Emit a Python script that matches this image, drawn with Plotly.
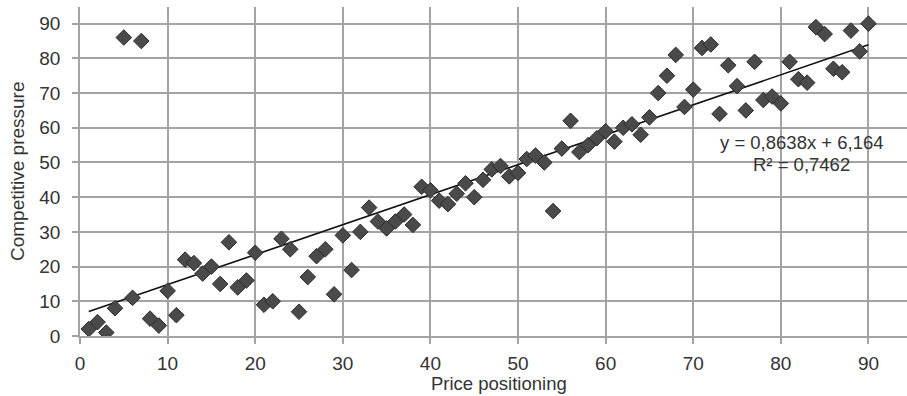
import numpy as np
import plotly.graph_objects as go

# ---- data ----
price_positioning = list(range(1, 91))
competitive_pressure = [
    2, 4, 1, 8, 86, 11, 85, 5, 3, 13,
    6, 22, 21, 18, 20, 15, 27, 14, 16, 24,
    9, 10, 28, 25, 7, 17, 23, 25, 12, 29,
    19, 30, 37, 33, 31, 33, 35, 32, 43, 42,
    39, 38, 41, 44, 40, 45, 48, 49, 46, 47,
    51, 52, 50, 36, 54, 62, 53, 55, 57, 59,
    56, 60, 61, 58, 63, 70, 75, 81, 66, 71,
    83, 84, 64, 78, 72, 65, 79, 68, 69, 67,
    79, 74, 73, 89, 87, 77, 76, 88, 82, 90,
]
x_ticks = [0, 10, 20, 30, 40, 50, 60, 70, 80, 90]
y_ticks = [0, 10, 20, 30, 40, 50, 60, 70, 80, 90]
x_title = "Price positioning"
y_title = "Competitive pressure"
eq_text = "y = 0,8638x + 6,164"
r2_text = "R² = 0,7462"

# linear trend line computed from the data
slope, intercept = np.polyfit(price_positioning, competitive_pressure, 1)
trend_x = [min(price_positioning), max(price_positioning)]
trend_y = [slope * v + intercept for v in trend_x]

FONT = "Liberation Sans, Arial, sans-serif"
GRID = "#a3a3a3"
TXT = "#333333"
L, T, B = 80, 7, 60
PW, PH = 907 - L, 396 - T - B

fig = go.Figure()
fig.add_trace(go.Scatter(
    x=trend_x, y=trend_y, mode="lines",
    line=dict(color="#111111", width=1.6),
    hoverinfo="skip", showlegend=False,
))
fig.add_trace(go.Scatter(
    x=price_positioning, y=competitive_pressure, mode="markers",
    marker=dict(symbol="diamond", size=12, color="#4a4a4a",
                line=dict(color="#2b2b2b", width=1)),
    showlegend=False,
))

axis_common = dict(
    tickmode="array",
    showgrid=True, gridcolor=GRID, gridwidth=1.5,
    zeroline=False, showline=True, linecolor=GRID, linewidth=1.5,
    ticks="outside", ticklen=6, tickcolor=GRID, tickwidth=1.5,
    tickfont=dict(family=FONT, size=19, color=TXT),
    automargin=False,
)

fig.update_layout(
    template="none",
    width=907, height=396,
    margin=dict(l=L, r=0, t=T, b=B, pad=0),
    paper_bgcolor="white", plot_bgcolor="white",
    font=dict(family=FONT, size=19, color=TXT),
    xaxis=dict(range=[0, 94.4], tickvals=x_ticks, ticklabelstandoff=3, **axis_common),
    yaxis=dict(range=[0, 94.8], tickvals=y_ticks, ticklabelstandoff=8, **axis_common),
    annotations=[
        dict(text=x_title, xref="paper", yref="paper", x=(499 - L) / PW, y=0,
             yshift=-47, xanchor="center", yanchor="middle", showarrow=False,
             font=dict(family=FONT, size=18.5, color=TXT)),
        dict(text=y_title, xref="paper", yref="paper", x=0, y=(336 - 171) / PH,
             xshift=-63, xanchor="center", yanchor="middle", textangle=-90,
             showarrow=False, font=dict(family=FONT, size=19, color=TXT)),
        dict(text=eq_text, xref="paper", yref="paper", x=(801.7 - L) / PW,
             y=(336 - 142.5) / PH, xanchor="center", yanchor="middle",
             showarrow=False, font=dict(family=FONT, size=18.5, color=TXT)),
        dict(text=r2_text, xref="paper", yref="paper", x=(801 - L) / PW,
             y=(336 - 164) / PH, xanchor="center", yanchor="middle",
             showarrow=False, font=dict(family=FONT, size=18.5, color=TXT)),
    ],
)

fig.write_html(
    "out.html",
    config={"displayModeBar": False},
    post_script="document.body.style.margin='0';document.body.style.overflow='hidden';",
)
